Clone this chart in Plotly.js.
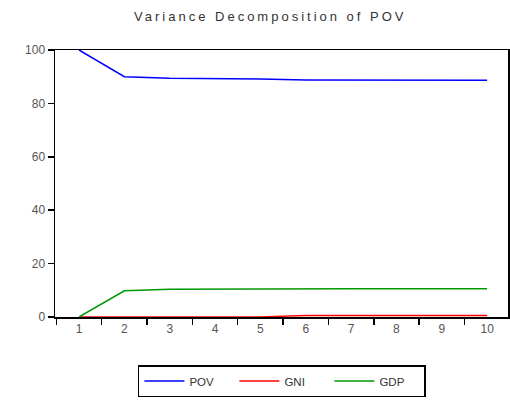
<!DOCTYPE html>
<html>
<head>
<meta charset="utf-8">
<script src="https://cdn.plot.ly/plotly-3.0.1.min.js"></script>
<style>
body{margin:0;padding:0;background:#fff;}
#chart{width:510px;height:400px;}
.gtitle{letter-spacing:3px;}
</style>
</head>
<body>
<div id="chart"></div>
<script>
const periods = [1,2,3,4,5,6,7,8,9,10];
const pov = [100, 90.0, 89.4, 89.3, 89.1, 88.8, 88.8, 88.7, 88.7, 88.7];
const gni = [0, 0.01, 0.02, 0.02, 0.03, 0.6, 0.6, 0.6, 0.6, 0.6];
const gdp = [0, 9.8, 10.4, 10.5, 10.55, 10.6, 10.6, 10.6, 10.6, 10.6];
const seriesNames = ['POV','GNI','GDP'];
const tickLabels = ['1','2','3','4','5','6','7','8','9','10'];
const yTicks = [0,20,40,60,80,100];

const traces = [
  {x: periods, y: pov, name: seriesNames[0], mode:'lines', line:{color:'#0000ff', width:1.5}},
  {x: periods, y: gni, name: seriesNames[1], mode:'lines', line:{color:'#ff0000', width:1.5}},
  {x: periods, y: gdp, name: seriesNames[2], mode:'lines', line:{color:'#009900', width:1.5}}
];

const layout = {
  width:510, height:400,
  margin:{l:55, r:2, t:50, b:83, autoexpand:false},
  paper_bgcolor:'#fff', plot_bgcolor:'#fff',
  font:{family:'Liberation Sans, Arial, sans-serif', size:12, color:'#444'},
  title:{text:'Variance Decomposition of POV', x:0.53, xanchor:'center', y:0.96, yanchor:'middle',
         font:{family:'Liberation Sans, Arial, sans-serif', size:13, color:'#333'}},
  xaxis:{
    range:[0.47, 10.46], tickvals: periods, ticktext: tickLabels, ticks:'',
    minor:{tick0:0.5, dtick:1, ticks:'outside', ticklen:6, tickwidth:1.5, tickcolor:'#000'},
    showline:true, mirror:true, linecolor:'#000', linewidth:1.5,
    showgrid:false, zeroline:false, fixedrange:true,
    tickfont:{size:12, color:'#555'}
  },
  yaxis:{
    range:[0,100], tickvals: yTicks, ticks:'outside', ticklen:6, tickwidth:1.5, tickcolor:'#000',
    showline:true, mirror:true, linecolor:'#000', linewidth:1.5,
    showgrid:false, zeroline:false, fixedrange:true,
    tickfont:{size:12, color:'#555'}
  },
  showlegend:true,
  legend:{orientation:'h', x:0.183, xanchor:'left', y:-0.3, yanchor:'bottom',
    bordercolor:'#000', borderwidth:1.5, bgcolor:'#fff',
    font:{size:11.5, color:'#333'}, itemwidth:40, traceorder:'normal',
    entrywidth:40, entrywidthmode:'pixels'}
};

Plotly.newPlot('chart', traces, layout, {displayModeBar:false, staticPlot:true});
</script>
</body>
</html>
